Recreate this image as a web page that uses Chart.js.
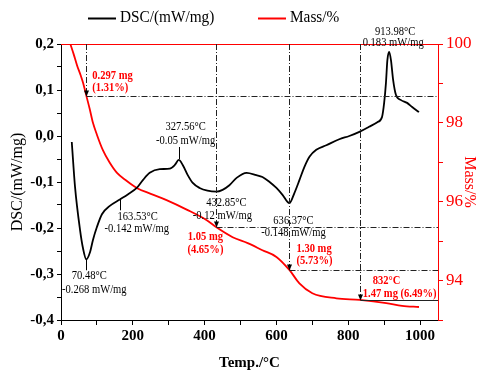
<!DOCTYPE html>
<html>
<head>
<meta charset="utf-8">
<script src="https://cdn.jsdelivr.net/npm/chart.js@4.4.0/dist/chart.umd.min.js"></script>
<style>
	html, body { margin: 0; padding: 0; background: #fff; }
	#wrap { width: 483px; height: 376px; }
</style>
</head>
<body>
<div id="wrap"><canvas id="chart"></canvas></div>
<script>
// DSC curve (mW/mg) against temperature (°C)
const dscTemp = [30, 39, 53, 61, 70.5, 81, 89, 100, 114, 136, 164, 186, 211, 228, 247, 275, 303, 317, 328, 339, 353, 367, 386, 408, 433, 450, 469, 489, 517, 544, 561, 581, 600, 617, 636, 650, 664, 678, 692, 711, 739, 775, 803, 831, 858, 881, 894, 900, 905, 909, 914, 919, 925, 933, 947, 964, 978, 997];
const dscValue = [-0.013, -0.11, -0.204, -0.243, -0.268, -0.252, -0.226, -0.198, -0.17, -0.152, -0.138, -0.127, -0.113, -0.096, -0.08, -0.072, -0.071, -0.063, -0.052, -0.063, -0.085, -0.102, -0.113, -0.119, -0.121, -0.117, -0.107, -0.091, -0.08, -0.085, -0.089, -0.1, -0.113, -0.128, -0.146, -0.124, -0.096, -0.067, -0.045, -0.03, -0.02, -0.007, 0.0, 0.009, 0.02, 0.03, 0.041, 0.072, 0.115, 0.165, 0.183, 0.165, 0.122, 0.089, 0.078, 0.072, 0.063, 0.052];

// mass curve (%)
const massTemp = [26, 35, 45, 55, 62, 70.5, 80, 89, 100, 117, 135, 156, 180, 211, 250, 294, 350, 406, 433, 478, 520, 561, 600, 636, 664, 700, 767, 832, 906, 950, 997];
const massValue = [100, 99.75, 99.45, 99.2, 99.0, 98.69, 98.35, 98.0, 97.7, 97.3, 97.0, 96.73, 96.55, 96.35, 96.2, 96.04, 95.8, 95.53, 95.35, 95.1, 94.95, 94.77, 94.6, 94.27, 93.93, 93.68, 93.55, 93.51, 93.43, 93.36, 93.33];

// tick labels
const tempTicks = [0, 200, 400, 600, 800, 1000];
const dscTicks = [-0.4, -0.3, -0.2, -0.1, 0.0, 0.1, 0.2];
const massTicks = [94, 96, 98, 100];

// DSC peaks
const peakTemp = [70.48, 163.53, 327.56, 432.85, 636.37, 913.98];
const peakDsc = [-0.268, -0.142, -0.05, -0.12, -0.148, 0.183];

// mass loss steps
const lossTemp = [70.48, 432.85, 636.37, 832];
const lossMass = [98.69, 95.35, 94.27, 93.51];
const lossMg = ['0.297 mg', '1.05 mg', '1.30 mg', '1.47 mg'];
const lossPct = ['(1.31%)', '(4.65%)', '(5.73%)', '(6.49%)'];

const SERIF = '"Liberation Serif", "Times New Roman", serif';
const RED = '#ff0000';

function text(ctx, str, x, y, opts) {
	opts = opts || {};
	const sx = opts.sx || 0.88;
	ctx.save();
	ctx.font = (opts.bold ? 'bold ' : '') + (opts.size || 12) + 'px ' + SERIF;
	ctx.fillStyle = opts.color || '#000';
	ctx.textBaseline = 'middle';
	ctx.textAlign = 'left';
	const w = ctx.measureText(str).width * sx;
	let left = x;
	if (opts.align === 'center') left = x - w / 2;
	ctx.translate(left, y);
	ctx.scale(sx, 1);
	ctx.fillText(str, 0, 0);
	ctx.restore();
}

function arrowDown(ctx, x, y) {
	ctx.beginPath();
	ctx.moveTo(x - 2.5, y - 6);
	ctx.lineTo(x + 2.5, y - 6);
	ctx.lineTo(x, y);
	ctx.closePath();
	ctx.fill();
}

const annotations = {
	id: 'annotations',
	afterDraw(chart) {
		const ctx = chart.ctx;
		const a = chart.chartArea;
		const xs = chart.scales.x, yl = chart.scales.y, yr = chart.scales.y1;

		// red top border
		ctx.save();
		ctx.strokeStyle = RED;
		ctx.lineWidth = 1;
		ctx.beginPath();
		ctx.moveTo(a.left, a.top + 0.5);
		ctx.lineTo(a.right, a.top + 0.5);
		ctx.stroke();
		ctx.restore();

		// mass loss guide lines
		ctx.save();
		ctx.strokeStyle = '#222';
		ctx.fillStyle = '#000';
		ctx.lineWidth = 1;
		lossTemp.forEach((t, i) => {
			const mx = Math.round(xs.getPixelForValue(t)) + 0.5;
			const my = Math.round(yr.getPixelForValue(lossMass[i])) + 0.5;
			ctx.setLineDash([6, 2, 1, 2]);
			ctx.beginPath();
			ctx.moveTo(mx, a.top);
			ctx.lineTo(mx, my - 3);
			ctx.stroke();
			if (i === lossTemp.length - 1) ctx.setLineDash([]);
			ctx.beginPath();
			ctx.moveTo(mx, my);
			ctx.lineTo(a.right, my);
			ctx.stroke();
			arrowDown(ctx, mx, my);
		});
		ctx.restore();

		// small ticks from the DSC peaks to their labels
		const tickSpan = [[0, 11], [-3, 9], [-12, 0], null, null, null];
		ctx.save();
		ctx.strokeStyle = '#000';
		ctx.lineWidth = 1;
		peakTemp.forEach((t, i) => {
			if (!tickSpan[i]) return;
			const px = Math.round(xs.getPixelForValue(t)) + 0.5;
			const py = yl.getPixelForValue(peakDsc[i]);
			ctx.beginPath();
			ctx.moveTo(px, py + tickSpan[i][0]);
			ctx.lineTo(px, py + tickSpan[i][1]);
			ctx.stroke();
		});
		ctx.restore();

		// DSC peak labels: [dx1, dy1, dx2, dy2]
		const peakPos = [[3, 17, 8, 31], [18, 16, 17, 28], [7, -32, 7, -18], [10, 12, 6, 25], [4, 17, 4, 29], [6, -20, 4, -9]];
		peakTemp.forEach((t, i) => {
			const px = xs.getPixelForValue(t);
			const py = yl.getPixelForValue(peakDsc[i]);
			const p = peakPos[i];
			text(ctx, t.toFixed(2) + '°C', px + p[0], py + p[1], { align: 'center' });
			text(ctx, String(peakDsc[i]) + ' mW/mg', px + p[2], py + p[3], { align: 'center' });
		});

		// mass loss labels
		const lossPos = [[6, -20, 6, -8], [-11, 10, -11, 23], [7, -21, 7, -9], [13, -19, 3, -6]];
		lossTemp.forEach((t, i) => {
			const mx = xs.getPixelForValue(t);
			const my = yr.getPixelForValue(lossMass[i]);
			const p = lossPos[i];
			const o = { color: RED, bold: true, align: i === 1 ? 'center' : 'left' };
			if (i === 3) {
				text(ctx, t + '°C', mx + p[0], my + p[1], o);
				text(ctx, lossMg[i] + ' ' + lossPct[i], mx + p[2], my + p[3], o);
			} else {
				text(ctx, lossMg[i], mx + p[0], my + p[1], o);
				text(ctx, lossPct[i], mx + p[2], my + p[3], o);
			}
		});

		// legend
		const items = chart.data.datasets;
		const legendX = [88, 258];
		ctx.save();
		items.forEach((ds, i) => {
			ctx.strokeStyle = ds.borderColor;
			ctx.lineWidth = 2;
			ctx.beginPath();
			ctx.moveTo(legendX[i], 18.5);
			ctx.lineTo(legendX[i] + 28, 18.5);
			ctx.stroke();
			text(ctx, ds.label, legendX[i] + 32, 18, { size: 17, sx: 0.9 });
		});
		ctx.restore();
	}
};

function near(list, v) {
	return list.some(t => Math.abs(t - v) < 1e-6);
}

new Chart(document.getElementById('chart'), {
	type: 'line',
	data: {
		datasets: [{
			label: 'DSC/(mW/mg)',
			data: dscTemp.map((t, i) => ({ x: t, y: dscValue[i] })),
			yAxisID: 'y',
			borderColor: '#000',
			backgroundColor: '#000',
			borderWidth: 1.8,
			pointRadius: 0,
			cubicInterpolationMode: 'monotone'
		}, {
			label: 'Mass/%',
			data: massTemp.map((t, i) => ({ x: t, y: massValue[i] })),
			yAxisID: 'y1',
			borderColor: RED,
			backgroundColor: RED,
			borderWidth: 1.8,
			pointRadius: 0,
			cubicInterpolationMode: 'monotone'
		}]
	},
	options: {
		responsive: true,
		maintainAspectRatio: false,
		devicePixelRatio: 1,
		animation: false,
		layout: { padding: { top: 44, left: 0, right: 0, bottom: 0 } },
		plugins: {
			legend: { display: false },
			tooltip: { enabled: false }
		},
		scales: {
			x: {
				type: 'linear',
				min: 0,
				max: 1050,
				afterBuildTicks(scale) {
					// major ticks every 200, minor every 100, stopping at 1000
					const ticks = [];
					for (let v = 0; v <= 1000; v += 100) ticks.push({ value: v });
					scale.ticks = ticks;
				},
				afterFit(scale) { scale.height = 56; },
				ticks: {
					autoSkip: false,
					maxRotation: 0,
					color: '#000',
					padding: 2,
					font: { family: SERIF, size: 15, weight: 'bold' },
					callback: v => near(tempTicks, v) ? String(v) : ''
				},
				grid: { drawOnChartArea: false, tickLength: 5, color: '#000' },
				border: { color: '#000', width: 1 },
				title: {
					display: true,
					text: 'Temp./°C',
					color: '#000',
					font: { family: SERIF, size: 15, weight: 'bold' },
					padding: { top: 6 }
				}
			},
			y: {
				position: 'left',
				min: -0.4,
				max: 0.2,
				afterFit(scale) { scale.width = 61; },
				ticks: {
					stepSize: 0.05,
					autoSkip: false,
					color: '#000',
					padding: 3,
					font: { family: SERIF, size: 15, weight: 'bold' },
					callback: v => near(dscTicks, v) ? v.toFixed(1).replace('.', ',').replace('-0,0', '0,0') : ''
				},
				grid: { drawOnChartArea: false, tickLength: 4, color: '#000' },
				border: { color: '#000', width: 1 },
				title: {
					display: true,
					text: 'DSC/(mW/mg)',
					color: '#000',
					font: { family: SERIF, size: 16 },
					padding: { top: 8, bottom: 0 }
				}
			},
			y1: {
				position: 'right',
				min: 93,
				max: 100,
				afterFit(scale) { scale.width = 45; },
				ticks: {
					stepSize: 1,
					autoSkip: false,
					color: RED,
					padding: 3,
					font: { family: SERIF, size: 17 },
					callback: v => near(massTicks, v) ? String(v) : ''
				},
				grid: { drawOnChartArea: false, tickLength: 5, color: RED },
				border: { color: RED, width: 1 },
				title: {
					display: true,
					text: 'Mass/%',
					color: RED,
					font: { family: SERIF, size: 16 },
					padding: { top: 4, bottom: 0 }
				}
			}
		}
	},
	plugins: [annotations]
});
</script>
</body>
</html>
